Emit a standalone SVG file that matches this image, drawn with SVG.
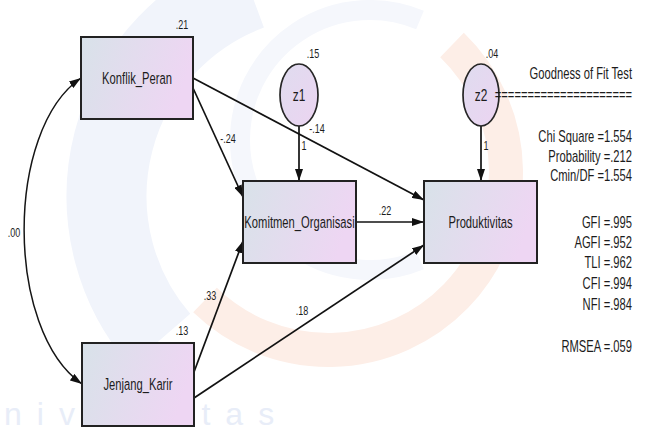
<svg xmlns="http://www.w3.org/2000/svg" width="646" height="428" viewBox="0 0 646 428">
  <style>
    text { font-family: "Liberation Sans", Arial, sans-serif; fill: #1c1c1c; }
    .node { fill: url(#boxFill); stroke: #222; stroke-width: 2; }
    .err { fill: url(#errFill); stroke: #262626; stroke-width: 1.7; }
    .lbl { font-size: 16.5px; text-anchor: middle; }
    .zl { font-size: 17px; text-anchor: middle; }
    .num { font-size: 12.5px; text-anchor: middle; }
    .fit { font-size: 16px; text-anchor: end; }
    .path { fill: none; stroke: #121212; stroke-width: 1.7; marker-end: url(#ah); }
    .wm { fill: none; }
  </style>
  <defs>
    <linearGradient id="boxFill" x1="0" y1="0" x2="1" y2="0.25">
      <stop offset="0" stop-color="#d8e2e9"/>
      <stop offset="1" stop-color="#eed6f3"/>
    </linearGradient>
    <linearGradient id="errFill" x1="0" y1="0" x2="1" y2="1">
      <stop offset="0" stop-color="#dfdcef"/>
      <stop offset="1" stop-color="#ecd4f1"/>
    </linearGradient>
    <marker id="ah" viewBox="0 0 12 8" refX="12" refY="4" markerWidth="12" markerHeight="8" markerUnits="userSpaceOnUse" orient="auto-start-reverse">
      <path d="M0 0 L12 4 L0 8 z" fill="#111"/>
    </marker>
  </defs>

  <rect width="646" height="428" fill="#ffffff"/>

  <!-- faint logo watermark behind the model -->
  <g id="watermark">
    <path class="wm" d="M 250 -10 A 220 220 0 0 0 160 340" stroke="#f1f4fb" stroke-width="80"/>
    <path class="wm" d="M 420 20 A 130 130 0 1 0 420 260" stroke="#f5f7fc" stroke-width="20"/>
    <path class="wm" d="M 452 45 A 165 165 0 0 1 205 300" stroke="#fdeee7" stroke-width="34"/>
    <text x="4" y="425" font-family="Lato, 'Open Sans', sans-serif" font-weight="300" font-size="32" letter-spacing="15" style="fill:#e8edf8">niversitas</text>
  </g>

  <!-- connectors -->
  <g id="connectors">
    <path d="M 81 78 C 5 130, 5 330, 82 384" fill="none" stroke="#151515" stroke-width="1.5" marker-start="url(#ah)" marker-end="url(#ah)"/>
    <path class="path" d="M 193 88 L 243 197"/>
    <path class="path" d="M 193 78 L 424 200" stroke-width="2.1"/>
    <path class="path" d="M 194 372 L 243 241" stroke-width="1.3"/>
    <path class="path" d="M 194 398 L 424 245" stroke-width="1.9"/>
    <path class="path" d="M 356 222 L 424 222" stroke-width="1.9"/>
    <path class="path" d="M 299 126 L 299 181"/>
    <path class="path" d="M 481 126 L 481 181"/>

    <text class="num" transform="translate(14 237) scale(0.72 1)">.00</text>
    <text class="num" transform="translate(228 143) scale(0.72 1)">-.24</text>
    <text class="num" transform="translate(317 133) scale(0.72 1)">-.14</text>
    <text class="num" transform="translate(210 300) scale(0.72 1)">.33</text>
    <text class="num" transform="translate(302 315) scale(0.72 1)">.18</text>
    <text class="num" transform="translate(385 215) scale(0.72 1)">.22</text>
    <text class="num" transform="translate(304 150) scale(0.72 1)">1</text>
    <text class="num" transform="translate(486 150) scale(0.72 1)">1</text>
  </g>

  <!-- observed variables -->
  <g id="konflik_peran">
    <rect class="node" x="81" y="37" width="112" height="82"/>
    <text class="lbl" transform="translate(137 84) scale(0.68 1)">Konflik_Peran</text>
    <text class="num" transform="translate(182 29) scale(0.72 1)">.21</text>
  </g>

  <g id="jenjang_karir">
    <rect class="node" x="82" y="343" width="112" height="83"/>
    <text class="lbl" transform="translate(138 390) scale(0.68 1)">Jenjang_Karir</text>
    <text class="num" transform="translate(182 335) scale(0.72 1)">.13</text>
  </g>

  <g id="komitmen_organisasi">
    <rect class="node" x="243" y="181" width="113" height="82"/>
    <text class="lbl" transform="translate(299.5 228) scale(0.68 1)">Komitmen_Organisasi</text>
  </g>

  <g id="produktivitas">
    <rect class="node" x="424" y="181" width="113" height="82"/>
    <text class="lbl" transform="translate(480.5 228) scale(0.68 1)">Produktivitas</text>
  </g>

  <!-- disturbance terms -->
  <g id="z1">
    <ellipse class="err" cx="299" cy="95" rx="19" ry="31"/>
    <text class="zl" transform="translate(299 101) scale(0.7 1)">z1</text>
    <text class="num" transform="translate(313 58) scale(0.72 1)">.15</text>
  </g>

  <g id="z2">
    <ellipse class="err" cx="481" cy="95" rx="18" ry="31"/>
    <text class="zl" transform="translate(481 101) scale(0.7 1)">z2</text>
    <text class="num" transform="translate(492 58) scale(0.72 1)">.04</text>
  </g>

  <!-- fit summary -->
  <g id="fit_summary">
    <text class="fit" transform="translate(632 79) scale(0.7 1)">Goodness of Fit Test</text>
    <text class="fit" transform="translate(632 100) scale(0.7 1)">=====================</text>
    <text class="fit" transform="translate(632 142) scale(0.7 1)">Chi Square =1.554</text>
    <text class="fit" transform="translate(632 161.5) scale(0.7 1)">Probability =.212</text>
    <text class="fit" transform="translate(632 181) scale(0.7 1)">Cmin/DF =1.554</text>
    <text class="fit" transform="translate(632 228) scale(0.7 1)">GFI =.995</text>
    <text class="fit" transform="translate(632 248) scale(0.7 1)">AGFI =.952</text>
    <text class="fit" transform="translate(632 268) scale(0.7 1)">TLI =.962</text>
    <text class="fit" transform="translate(632 289) scale(0.7 1)">CFI =.994</text>
    <text class="fit" transform="translate(632 310) scale(0.7 1)">NFI =.984</text>
    <text class="fit" transform="translate(632 352) scale(0.7 1)">RMSEA =.059</text>
  </g>
</svg>
